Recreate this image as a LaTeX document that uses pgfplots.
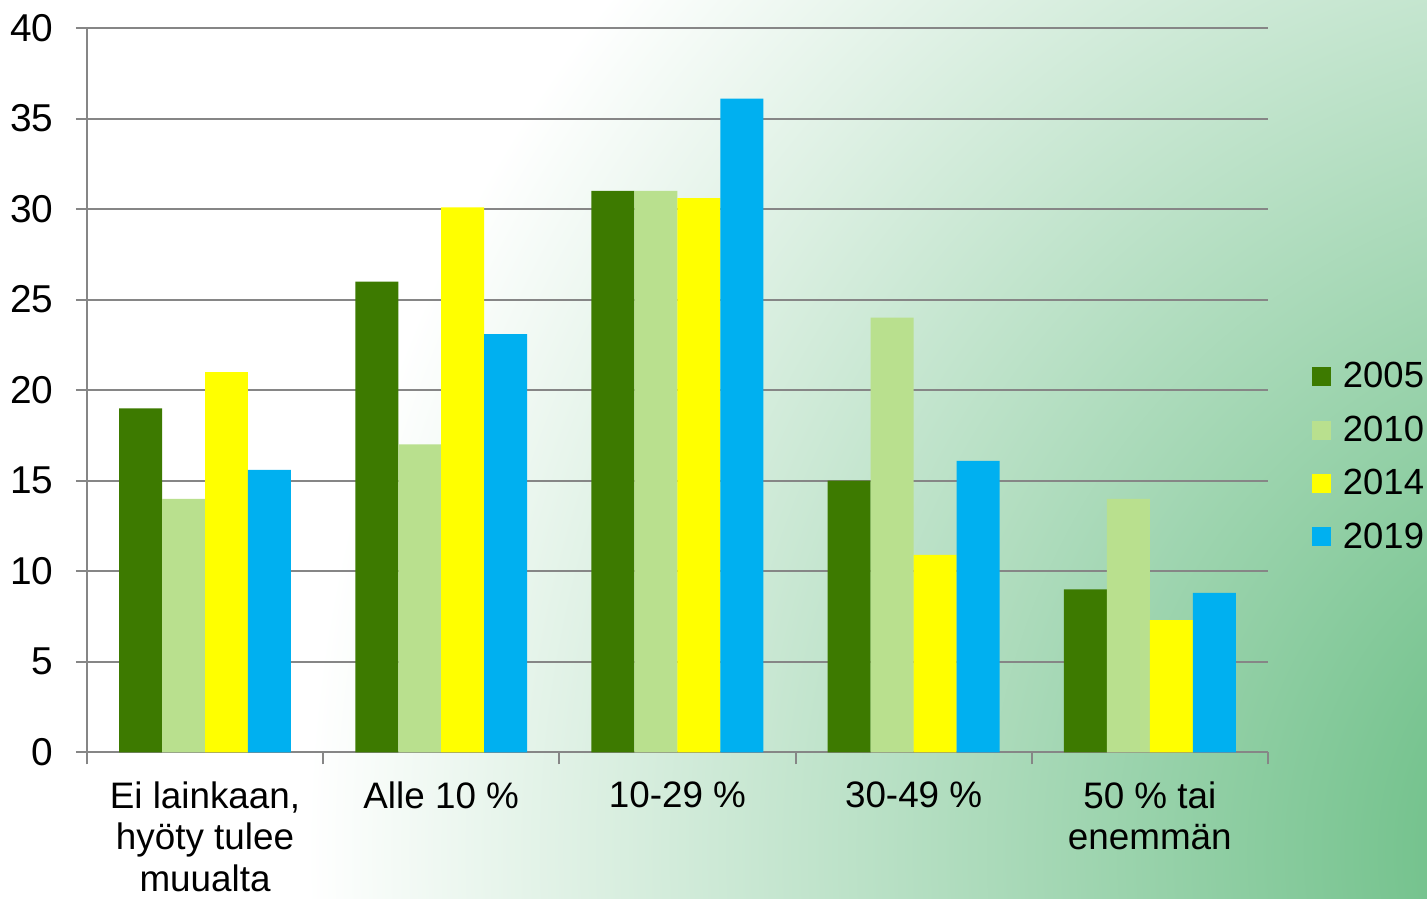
\documentclass[border=0pt]{standalone}
\usepackage{pgfplots}
\pgfplotsset{compat=1.18}
\usepackage{fontspec}
\setmainfont{Liberation Sans}

\definecolor{c2005}{RGB}{61,122,0}
\definecolor{c2010}{RGB}{185,224,142}
\definecolor{c2014}{RGB}{255,255,0}
\definecolor{c2019}{RGB}{0,176,240}
\definecolor{gridgray}{RGB}{134,134,134}
\definecolor{bggreen}{RGB}{88,182,118}

\begin{document}
\begin{tikzpicture}
% page background: white with a soft green glow in the lower right
\fill[white] (-43.5bp,-73bp) rectangle (670.5bp,376.5bp);
\begin{scope}
\clip (-43.5bp,-73bp) rectangle (670.5bp,376.5bp);
\shade[inner color=bggreen, outer color=white] (790bp,-50bp) circle (680bp);
\end{scope}

\begin{axis}[
    scale only axis,
    width=591bp, height=362.5bp,
    ybar=0pt,
    bar width=21.5bp,
    xmin=-0.5, xmax=4.5,
    ymin=0, ymax=40,
    ytick={0,5,...,40},
    xtick={0,1,2,3,4},
    xticklabels={{Ei lainkaan,\\hyöty tulee\\muualta},{Alle 10 \%},{10-29 \%},{30-49 \%},{50 \% tai\\enemmän}},
    minor xtick={-0.5,0.5,...,4.5},
    major x tick style={draw=none},
    minor tick length=6bp,
    major tick length=5.5bp,
    tick align=outside,
    tick style={gridgray, line width=1bp},
    axis x line*=bottom,
    axis y line*=left,
    axis line style={gridgray, line width=1bp},
    ymajorgrids=true,
    grid style={gridgray, line width=1bp},
    /pgf/number format/assume math mode=true,
    yticklabel style={font=\fontsize{19.5}{22}\selectfont, inner sep=0pt, xshift=-11bp},
    xticklabel style={font=\fontsize{18.5}{20.8}\selectfont, align=center, inner sep=0pt, yshift=-9bp, anchor=north},
    legend style={draw=none, fill=none, at={(1.037,0.408)}, anchor=west,
        font=\fontsize{18.3}{21}\selectfont, row sep=8.5bp, inner sep=0pt,
        /tikz/every odd column/.append style={column sep=4bp}},
    legend cell align=left,
    legend image code/.code={\fill[#1] (0bp,-4.75bp) rectangle (9.5bp,4.75bp);},
    every axis plot/.append style={draw=none},
]
\addplot[fill=c2005] coordinates {(0,19) (1,26) (2,31) (3,15) (4,9)};
\addplot[fill=c2010] coordinates {(0,14) (1,17) (2,31) (3,24) (4,14)};
\addplot[fill=c2014] coordinates {(0,21) (1,30.1) (2,30.6) (3,10.9) (4,7.3)};
\addplot[fill=c2019] coordinates {(0,15.6) (1,23.1) (2,36.1) (3,16.1) (4,8.8)};
\legend{2005,2010,2014,2019}
\end{axis}
\end{tikzpicture}
\end{document}
